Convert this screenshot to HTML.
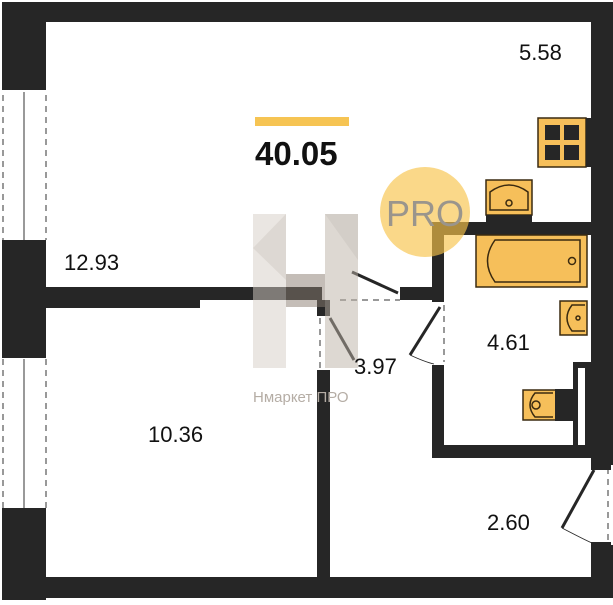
<!DOCTYPE html>
<html><head><meta charset="utf-8"><style>
body{margin:0;width:613px;height:600px;overflow:hidden;background:#fff}
svg text{font-family:"Liberation Sans",sans-serif}
</style></head><body>
<svg width="613" height="600" viewBox="0 0 613 600" xmlns="http://www.w3.org/2000/svg">
<g fill="#262626">
<rect x="2" y="2" width="611" height="20"/>
<rect x="2" y="2" width="44" height="86"/>
<rect x="2" y="243" width="44" height="112"/>
<rect x="2" y="512" width="44" height="88"/>
<rect x="2" y="577" width="611" height="21"/>
<rect x="591" y="2" width="22" height="463"/>
<rect x="591" y="545" width="22" height="40"/>
<rect x="46" y="287" width="154" height="21"/>
<rect x="200" y="287" width="122" height="13"/>
<rect x="317" y="300" width="13" height="16"/>
<rect x="317" y="370" width="13" height="210"/>
<rect x="400" y="287" width="32" height="13"/>
<rect x="432" y="222" width="160" height="13"/>
<rect x="432" y="222" width="12" height="80"/>
<rect x="432" y="365" width="12" height="93"/>
<rect x="432" y="445" width="160" height="13"/>
<rect x="573" y="362" width="18" height="85"/>
</g>
<rect x="578" y="368" width="7" height="77" fill="#fff"/>
<g stroke="#333" fill="none">
<line x1="3" y1="95" x2="3" y2="240" stroke-dasharray="6,5"/>
<line x1="46" y1="95" x2="46" y2="240" stroke-dasharray="6,5"/>
<line x1="24" y1="92" x2="24" y2="240"/>
<line x1="3" y1="359" x2="3" y2="510" stroke-dasharray="6,5"/>
<line x1="46" y1="359" x2="46" y2="510" stroke-dasharray="6,5"/>
<line x1="24" y1="359" x2="24" y2="508"/>
<line x1="608" y1="468" x2="608" y2="543" stroke-dasharray="6,5"/>
<line x1="320" y1="318" x2="320" y2="368" stroke-dasharray="6,5"/>
<line x1="444" y1="305" x2="444" y2="362" stroke-dasharray="6,5"/>
<line x1="340" y1="300" x2="400" y2="300" stroke-dasharray="6,5"/>
</g>
<g fill="#262626">
<rect x="2" y="86" width="44" height="4"/><rect x="2" y="240" width="44" height="4"/>
<rect x="2" y="354" width="44" height="4"/><rect x="2" y="508" width="44" height="4"/>
<rect x="591" y="465" width="20" height="5"/><rect x="591" y="542" width="20" height="5"/>
</g>
<g stroke="#262626" stroke-width="3" fill="none">
<line x1="594" y1="470" x2="562" y2="528"/>
<line x1="440" y1="307" x2="410" y2="355"/>
<line x1="330" y1="318" x2="354" y2="360"/>
<line x1="398" y1="293" x2="352" y2="272"/>
</g>
<g stroke="#262626" stroke-width="0.8" fill="none">
<path d="M562 528 Q585 540 592 543"/>
<path d="M410 355 Q425 362 434 364"/>
<path d="M354 360 Q345 340 330 320"/>
</g>
<g fill="#f6bf5a" stroke="#3a2a10" stroke-width="1.5">
<rect x="538" y="118" width="48" height="49"/>
<rect x="486" y="180" width="46" height="35"/>
<rect x="476" y="235" width="111" height="52"/>
<rect x="560" y="301" width="27" height="34"/>
<rect x="523" y="390" width="36" height="30"/>
</g>
<g fill="#262626">
<rect x="545" y="125" width="15" height="15"/><rect x="564" y="125" width="15" height="15"/>
<rect x="545" y="145" width="15" height="15"/><rect x="564" y="145" width="15" height="15"/>
<rect x="486" y="215" width="46" height="8"/>
<rect x="555" y="389" width="18" height="32"/>
<rect x="586" y="118" width="5" height="49"/>
</g>
<g fill="none" stroke="#3a2a10" stroke-width="1.5">
<path d="M490 210 L490 192 Q509 178 528 192 L528 210 Z"/>
<circle cx="509" cy="203" r="3"/>
<path d="M495 240 L580 240 L580 282 L495 282 Q480 261 495 240 Z"/>
<circle cx="572" cy="261" r="3.5"/>
<path d="M585 305 L572 305 Q562 318 572 331 L585 331"/>
<circle cx="578" cy="318" r="2"/>
<path d="M553 393 L535 393 Q525 405 535 417 L553 417"/>
<circle cx="536" cy="405" r="4"/>
</g>
<g opacity="0.5">
<rect x="253" y="214" width="33" height="154" fill="#d6cec6"/>
<polygon points="253,248 286,214 286,280" fill="#bdb3a8"/>
<rect x="325" y="214" width="33" height="154" fill="#bcb2a6"/>
<polygon points="325,214 358,214 358,260" fill="#a99e92"/>
<rect x="286" y="274" width="39" height="33" fill="#8a7e72"/>
</g>
<text x="253" y="402" font-size="15" fill="#b5ada5">Нмаркет ПРО</text>
<circle cx="425" cy="212" r="45" fill="#f7c34a" opacity="0.65"/>
<text x="425" y="226" font-size="36" fill="#9a958c" text-anchor="middle">PRO</text>
<rect x="255" y="117" width="94" height="9" fill="#f6c453"/>
<text x="255" y="165" font-size="33" font-weight="bold" fill="#111">40.05</text>
<g font-size="22" fill="#111">
<text x="519" y="60">5.58</text>
<text x="64" y="270">12.93</text>
<text x="148" y="442">10.36</text>
<text x="354" y="374">3.97</text>
<text x="487" y="350">4.61</text>
<text x="487" y="530">2.60</text>
</g>
</svg>
</body></html>
